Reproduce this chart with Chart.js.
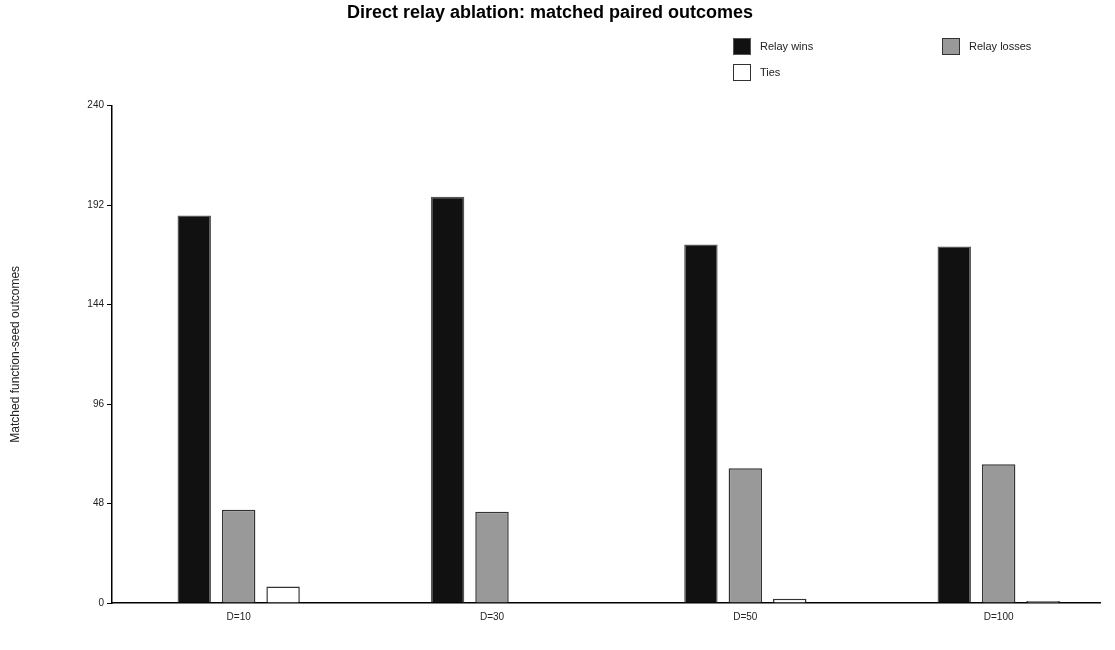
<!DOCTYPE html>
<html>
<head>
<meta charset="utf-8">
<script src="https://cdn.jsdelivr.net/npm/chart.js@4"></script>
<style>
    html, body { margin: 0; padding: 0; background: #fff; overflow: hidden; }
    #wrap { position: relative; width: 1115px; height: 650px; }
    #legend {
        position: absolute; left: 733px; top: 37px;
        display: grid; grid-template-columns: 209px 150px; row-gap: 8px;
        font-family: "Liberation Sans", Arial, sans-serif; font-size: 11px; color: #222;
    }
    .item { display: flex; align-items: center; height: 18px; }
    .box { width: 16px; height: 15px; margin-right: 9px; border: 1.5px solid #333; }
</style>
</head>
<body>
<div id="wrap">
    <canvas id="chart" width="1115" height="650"></canvas>
    <div id="legend"></div>
</div>
<script>
const categories = ["D=10", "D=30", "D=50", "D=100"];
const relayWins = [187, 196, 173, 172];
const relayLosses = [45, 44, 65, 67];
const ties = [8, 0, 2, 1];
const yTicks = [0, 48, 96, 144, 192, 240];

const font = "'Liberation Sans', Arial, sans-serif";

// los valores de x son el índice de la categoría
function toPoints(values) {
    return values.map((v, i) => ({ x: i, y: v }));
}

const datasets = [
    { label: "Relay wins", data: toPoints(relayWins), backgroundColor: "#111111", borderColor: "#555555" },
    { label: "Relay losses", data: toPoints(relayLosses), backgroundColor: "#999999", borderColor: "#333333" },
    { label: "Ties", data: toPoints(ties), backgroundColor: "#ffffff", borderColor: "#333333" }
];
datasets.forEach(ds => {
    ds.borderWidth = 1.5;
    ds.categoryPercentage = 0.526;
    ds.barPercentage = 0.753;
});

const ctx = document.getElementById("chart").getContext("2d");
const chart = new Chart(ctx, {
    type: "bar",
    data: { datasets },
    options: {
        responsive: false,
        animation: false,
        layout: { padding: { left: 0, right: 15, bottom: 27 } },
        scales: {
            x: {
                type: "linear",
                min: -0.5,
                max: 3.4,
                offset: false,
                grid: { display: false, offset: false },
                border: { display: true, color: "#000", width: 1.5 },
                ticks: {
                    stepSize: 1,
                    includeBounds: false,
                    autoSkip: false,
                    maxRotation: 0,
                    padding: 0,
                    color: "#222",
                    font: { family: font, size: 10 },
                    callback: v => categories[v] ?? ""
                }
            },
            y: {
                min: 0,
                max: 240,
                afterBuildTicks: s => { s.ticks = yTicks.map(v => ({ value: v })); },
                afterFit: s => { s.width = 112; },
                grid: { display: true, drawOnChartArea: false, drawTicks: true, tickLength: 5, color: "#000" },
                border: { display: true, color: "#000", width: 1.5 },
                ticks: { padding: 3, color: "#222", font: { family: font, size: 10 } },
                title: {
                    display: true,
                    text: "Matched function-seed outcomes",
                    color: "#222",
                    font: { family: font, size: 12 },
                    padding: { top: 8, bottom: 0 }
                }
            }
        },
        plugins: {
            legend: { display: false },
            tooltip: { enabled: false },
            title: {
                display: true,
                text: "Direct relay ablation: matched paired outcomes",
                color: "#000",
                font: { family: font, size: 18, weight: "bold" },
                padding: { top: 2, bottom: 82 }
            }
        }
    }
});

// Leyenda en HTML, dos columnas como en la figura
const legend = document.getElementById("legend");
datasets.forEach(ds => {
    const item = document.createElement("div");
    item.className = "item";
    const box = document.createElement("span");
    box.className = "box";
    box.style.background = ds.backgroundColor;
    box.style.borderColor = ds.borderColor;
    const text = document.createElement("span");
    text.innerText = ds.label;
    item.appendChild(box);
    item.appendChild(text);
    legend.appendChild(item);
});

console.log("Área del gráfico:", chart.chartArea);
</script>
</body>
</html>
